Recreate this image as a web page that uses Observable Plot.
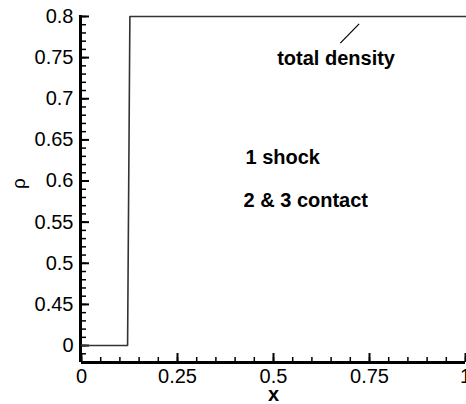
<!DOCTYPE html>
<html><head><meta charset="utf-8">
<script src="https://cdn.jsdelivr.net/npm/d3@7"></script>
<script src="https://cdn.jsdelivr.net/npm/@observablehq/plot@0.6"></script>
<style>body{margin:0;background:#fff}svg{font-family:"Liberation Sans",Arial,sans-serif}</style>
</head><body><div id="chart"></div>
<script>
const xs = [0, 0.12, 0.126, 1];
const rho = [0.4, 0.4, 0.8, 0.8];
const xTicks = [0, 0.25, 0.5, 0.75, 1];
const xTickLabels = ["0", "0.25", "0.5", "0.75", "1"];
const xMinor = d3.range(0, 1.0001, 0.05).map(v => +v.toFixed(2));
const yTicks = [0.4, 0.45, 0.5, 0.55, 0.6, 0.65, 0.7, 0.75, 0.8];
const yTickLabels = ["0", "0.45", "0.5", "0.55", "0.6", "0.65", "0.7", "0.75", "0.8"];
const yMinor = d3.range(0.38, 0.8001, 0.01).map(v => +v.toFixed(2));
const notes = [
  {x: 0.5096, y: 0.7490, text: "total density"},
  {x: 0.427, y: 0.6289, text: "1 shock"},
  {x: 0.422, y: 0.5767, text: "2 & 3 contact"}
];
const leaderX = [0.674, 0.723];
const leaderY = [0.7676, 0.7911];

const line = xs.map((x, i) => ({x, y: rho[i]}));
const fmtX = d => xTickLabels[xTicks.indexOf(d)];
const fmtY = d => yTickLabels[yTicks.findIndex(t => Math.abs(t - d) < 1e-9)];
const yMin = 0.3794;
const W = 466, H = 404, mL = 81, mR = 1, mT = 15, mB = 42;

const chart = Plot.plot({
  width: W, height: H,
  marginLeft: mL, marginRight: mR, marginTop: mT, marginBottom: mB,
  style: {fontFamily: '"Liberation Sans", Arial, sans-serif', fontSize: "20px", background: "#fff"},
  x: {domain: [0, 1]},
  y: {domain: [yMin, 0.8012]},
  marks: [
    Plot.axisX({ticks: xTicks, tickSize: 0, tickFormat: fmtX, tickPadding: 6, fontSize: 20, label: null}),
    Plot.axisY({ticks: yTicks, tickSize: 0, tickFormat: fmtY, tickPadding: 8, fontSize: 20, label: null}),
    Plot.ruleX([0], {stroke: "black", strokeWidth: 3, dx: -1}),
    Plot.ruleY([yMin], {stroke: "black", strokeWidth: 3}),
    Plot.axisX({ticks: xMinor, tickSize: 5, dy: -5, text: null, label: null, stroke: "black", strokeWidth: 1.5}),
    Plot.axisX({ticks: xTicks, tickSize: 9, dy: -9, text: null, label: null, stroke: "black", strokeWidth: 2}),
    Plot.axisY({ticks: yMinor, tickSize: 5, dx: 5, text: null, label: null, stroke: "black", strokeWidth: 1.5}),
    Plot.axisY({ticks: yTicks, tickSize: 8, dx: 8, text: null, label: null, stroke: "black", strokeWidth: 2}),
    Plot.line(line, {x: "x", y: "y", stroke: "#333", strokeWidth: 1.6}),
    Plot.link([0], {x1: () => leaderX[0], y1: () => leaderY[0], x2: () => leaderX[1], y2: () => leaderY[1], stroke: "black", strokeWidth: 1.2}),
    Plot.text(notes, {x: "x", y: "y", text: "text", textAnchor: "start", fontWeight: "bold", fontSize: 20, fill: "black"}),
    Plot.text(["x"], {frameAnchor: "bottom", dy: 38, fontWeight: "bold", fontSize: 20, fill: "black"}),
    Plot.text(["ρ"], {frameAnchor: "left", dx: -63, rotate: -90, fontSize: 19, fill: "black"})
  ]
});
document.getElementById("chart").append(chart);
</script></body></html>
